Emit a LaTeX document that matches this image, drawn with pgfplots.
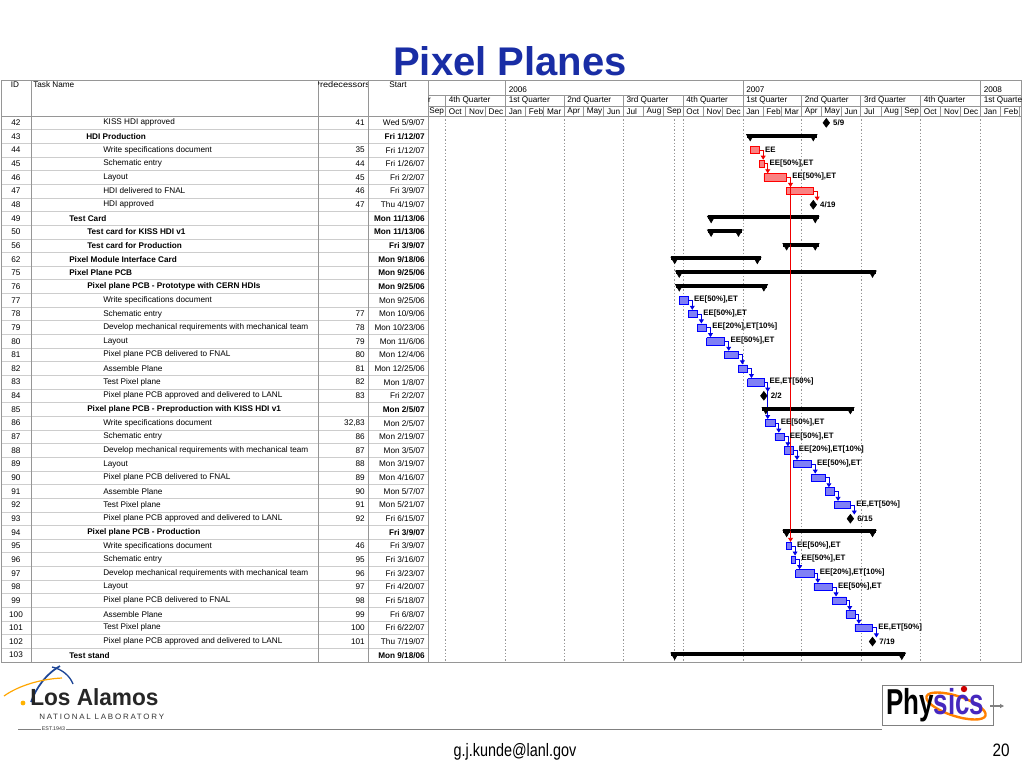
\documentclass[border=0pt]{standalone}
\usepackage{fontspec}
\setmainfont{Liberation Sans}
\newfontfamily\lanlspaced[LetterSpace=22]{Liberation Sans}
\usepackage{pgfplots}
\pgfplotsset{compat=1.18}
\usetikzlibrary{arrows.meta}

\definecolor{titleblue}{RGB}{25,45,165}
\definecolor{gridgray}{RGB}{150,150,150}
\definecolor{linegray}{RGB}{150,150,150}
\definecolor{rowgray}{RGB}{205,205,205}
\definecolor{taskblue}{RGB}{128,128,245}
\definecolor{taskred}{RGB}{250,130,130}
\definecolor{linkblue}{RGB}{0,0,230}
\definecolor{linkred}{RGB}{240,0,0}
\definecolor{physblue}{RGB}{70,40,190}
\definecolor{lanlblue}{RGB}{30,70,150}

\newcommand\tabfont{\fontsize{6.15}{7}\selectfont}
\newcommand\barfont{\fontsize{5.9}{7}\selectfont\bfseries}

\pgfplotsset{
  bluebar/.style={draw=blue, fill=taskblue, line width=0.5pt},
  redbar/.style={draw=red, fill=taskred, line width=0.5pt},
  gridline/.style={gridgray, line width=0.4pt, dash pattern=on 1pt off 1.5pt},
}

% table row: row, id, indent x, name, predecessors, start, font
\newcommand\trow[7]{%
  \pgfmathsetmacro\yy{122.8+13.65*#1}%
  \node at (16,\yy) {\tabfont #2};
  \node[anchor=west] at (#3,\yy) {\tabfont#7\relax #4};
  \node[anchor=east] at (365,\yy) {\tabfont #5};
  \node[anchor=east] at (425,\yy) {\tabfont#7\relax #6};}

% task bar: style, row, start day, end day
\newcommand\tbar[4]{%
  \pgfmathsetmacro\ya{#2-0.27}\pgfmathsetmacro\yb{#2+0.27}%
  \edef\doit{\noexpand\addplot[#1] coordinates {(#3,\ya) (#4,\ya) (#4,\yb) (#3,\yb) (#3,\ya)};}\doit}

% summary bar: row, start day, end day
\newcommand\tsum[3]{%
  \pgfmathsetmacro\ya{#1-0.07}%
  \edef\doit{\noexpand\addplot[black, line width=3pt, shorten <=-2.5pt, shorten >=-2.5pt] coordinates {(#2,\ya) (#3,\ya)};
    \noexpand\addplot[only marks, mark=triangle*, mark size=3.3pt, mark options={rotate=180, black}] coordinates {(#2,#1) (#3,#1)};}\doit}

% link: colour, row, end day, next row
\newcommand\tlink[4]{%
  \pgfmathsetmacro\lx{#3+6}\pgfmathsetmacro\ly{#4-0.3}%
  \edef\doit{\noexpand\addplot[#1, line width=0.6pt, -{Triangle[length=3pt,width=3.6pt]}] coordinates {(#3,#2) (\lx,#2) (\lx,\ly)};}\doit}

\begin{document}
\begin{tikzpicture}[x=0.75pt, y=-0.75pt, every node/.style={inner sep=0pt}]
\fill[white] (0,0) rectangle (1024,768);

% title
\node[font=\fontsize{30}{36}\selectfont\bfseries, text=titleblue] at (510,61) {Pixel Planes};

% table grid
\foreach \k in {1,...,39} {
  \pgfmathsetmacro\yy{116+13.65*\k}
  \draw[rowgray, line width=0.5pt] (1,\yy) -- (428,\yy);
}
\draw[linegray, line width=0.6pt] (1,80) rectangle (1021,662);
\draw[linegray, line width=0.6pt] (1,116) -- (1021,116);
\draw[linegray, line width=0.6pt] (428,95) -- (1021,95);
\draw[linegray, line width=0.6pt] (428,106) -- (1021,106);
\foreach \xx in {31,318,368,428} \draw[linegray, line width=0.6pt] (\xx,80) -- (\xx,662);

% table header
\node at (15,85) {\tabfont ID};
\node[anchor=west] at (33,85) {\tabfont Task Name};
\begin{scope}
  \clip (318.5,80) rectangle (367.5,116);
  \node[xscale=1.12] at (342,85) {\tabfont Predecessors};
\end{scope}
\node at (398,85) {\tabfont Start};

% gantt header
\begin{scope}
  \clip (428,80) rectangle (1021,116);
  \foreach \d/\m in {-122/Sep,-92/Oct,-61/Nov,-31/Dec,0/Jan,31/Feb,59/Mar,90/Apr,120/May,151/Jun,181/Jul,212/Aug,243/Sep,273/Oct,304/Nov,334/Dec,365/Jan,396/Feb,424/Mar,455/Apr,485/May,516/Jun,546/Jul,577/Aug,608/Sep,638/Oct,669/Nov,699/Dec,730/Jan,761/Feb,790/Mar} {
    \pgfmathsetmacro\xx{505.5+0.6507*\d}
    \draw[linegray, line width=0.6pt] (\xx,106) -- (\xx,116);
    \node[anchor=west] at (\xx+3,111.4) {\tabfont \m};
  }
  \foreach \d/\q in {-184/3rd Quarter,-92/4th Quarter,0/1st Quarter,90/2nd Quarter,181/3rd Quarter,273/4th Quarter,365/1st Quarter,455/2nd Quarter,546/3rd Quarter,638/4th Quarter,730/1st Quarter} {
    \pgfmathsetmacro\xx{505.5+0.6507*\d}
    \draw[linegray, line width=0.6pt] (\xx,95) -- (\xx,106);
    \node[anchor=west] at (\xx+3,100.8) {\tabfont \q};
  }
  \foreach \d/\y in {-365/2005,0/2006,365/2007,730/2008} {
    \pgfmathsetmacro\xx{505.5+0.6507*\d}
    \draw[linegray, line width=0.6pt] (\xx,80) -- (\xx,95);
    \node[anchor=west] at (\xx+3,90) {\tabfont \y};
  }
\end{scope}

% table rows
\trow{0}{42}{103}{KISS HDI approved}{41}{Wed 5/9/07}{}
\trow{1}{43}{86}{HDI Production}{}{Fri 1/12/07}{\bfseries}
\trow{2}{44}{103}{Write specifications document}{35}{Fri 1/12/07}{}
\trow{3}{45}{103}{Schematic entry}{44}{Fri 1/26/07}{}
\trow{4}{46}{103}{Layout}{45}{Fri 2/2/07}{}
\trow{5}{47}{103}{HDI delivered to FNAL}{46}{Fri 3/9/07}{}
\trow{6}{48}{103}{HDI approved}{47}{Thu 4/19/07}{}
\trow{7}{49}{69}{Test Card}{}{Mon 11/13/06}{\bfseries}
\trow{8}{50}{87}{Test card for KISS HDI v1}{}{Mon 11/13/06}{\bfseries}
\trow{9}{56}{87}{Test card for Production}{}{Fri 3/9/07}{\bfseries}
\trow{10}{62}{69}{Pixel Module Interface Card}{}{Mon 9/18/06}{\bfseries}
\trow{11}{75}{69}{Pixel Plane PCB}{}{Mon 9/25/06}{\bfseries}
\trow{12}{76}{87}{Pixel plane PCB - Prototype with CERN HDIs}{}{Mon 9/25/06}{\bfseries}
\trow{13}{77}{103}{Write specifications document}{}{Mon 9/25/06}{}
\trow{14}{78}{103}{Schematic entry}{77}{Mon 10/9/06}{}
\trow{15}{79}{103}{Develop mechanical requirements with mechanical team}{78}{Mon 10/23/06}{}
\trow{16}{80}{103}{Layout}{79}{Mon 11/6/06}{}
\trow{17}{81}{103}{Pixel plane PCB delivered to FNAL}{80}{Mon 12/4/06}{}
\trow{18}{82}{103}{Assemble Plane}{81}{Mon 12/25/06}{}
\trow{19}{83}{103}{Test Pixel plane}{82}{Mon 1/8/07}{}
\trow{20}{84}{103}{Pixel plane PCB approved and delivered to LANL}{83}{Fri 2/2/07}{}
\trow{21}{85}{87}{Pixel plane PCB - Preproduction with KISS HDI v1}{}{Mon 2/5/07}{\bfseries}
\trow{22}{86}{103}{Write specifications document}{32,83}{Mon 2/5/07}{}
\trow{23}{87}{103}{Schematic entry}{86}{Mon 2/19/07}{}
\trow{24}{88}{103}{Develop mechanical requirements with mechanical team}{87}{Mon 3/5/07}{}
\trow{25}{89}{103}{Layout}{88}{Mon 3/19/07}{}
\trow{26}{90}{103}{Pixel plane PCB delivered to FNAL}{89}{Mon 4/16/07}{}
\trow{27}{91}{103}{Assemble Plane}{90}{Mon 5/7/07}{}
\trow{28}{92}{103}{Test Pixel plane}{91}{Mon 5/21/07}{}
\trow{29}{93}{103}{Pixel plane PCB approved and delivered to LANL}{92}{Fri 6/15/07}{}
\trow{30}{94}{87}{Pixel plane PCB - Production}{}{Fri 3/9/07}{\bfseries}
\trow{31}{95}{103}{Write specifications document}{46}{Fri 3/9/07}{}
\trow{32}{96}{103}{Schematic entry}{95}{Fri 3/16/07}{}
\trow{33}{97}{103}{Develop mechanical requirements with mechanical team}{96}{Fri 3/23/07}{}
\trow{34}{98}{103}{Layout}{97}{Fri 4/20/07}{}
\trow{35}{99}{103}{Pixel plane PCB delivered to FNAL}{98}{Fri 5/18/07}{}
\trow{36}{100}{103}{Assemble Plane}{99}{Fri 6/8/07}{}
\trow{37}{101}{103}{Test Pixel plane}{100}{Fri 6/22/07}{}
\trow{38}{102}{103}{Pixel plane PCB approved and delivered to LANL}{101}{Thu 7/19/07}{}
\trow{39}{103}{69}{Test stand}{}{Mon 9/18/06}{\bfseries}

% gantt body: x = days since 1 Jan 2006, y = row
\coordinate (gnw) at (428,116);
\begin{axis}[at={(gnw)}, anchor=north west, scale only axis,
  width=444.75pt, height=409.5pt,
  xmin=-119.1, xmax=792.2, ymin=-0.5, ymax=39.5, y dir=reverse,
  axis line style={draw=none}, tick style={draw=none},
  xtick=\empty, ytick=\empty,
  clip=true]
% quarter gridlines and project start
\pgfplotsinvokeforeach{-92,0,90,181,273,365,455,546,638,730,260}{
  \addplot[gridline] coordinates {(#1,-0.5) (#1,39.5)};
}

% summary tasks
\tsum{1}{376}{473}
\tsum{7}{316}{476}
\tsum{8}{316}{358}
\tsum{9}{432}{476}
\tsum{10}{260}{387}
\tsum{11}{267}{564}
\tsum{12}{267}{397}
\tsum{21}{400}{530}
\tsum{30}{432}{564}
\tsum{39}{260}{609}

% HDI production tasks
\tbar{redbar}{2}{376}{390}
\tbar{redbar}{3}{390}{397}
\tbar{redbar}{4}{397}{432}
\tbar{redbar}{5}{432}{473}
% prototype
\tbar{bluebar}{13}{267}{281}
\tbar{bluebar}{14}{281}{295}
\tbar{bluebar}{15}{295}{309}
\tbar{bluebar}{16}{309}{337}
\tbar{bluebar}{17}{337}{358}
\tbar{bluebar}{18}{358}{372}
\tbar{bluebar}{19}{372}{397}
% preproduction
\tbar{bluebar}{22}{400}{414}
\tbar{bluebar}{23}{414}{428}
\tbar{bluebar}{24}{428}{442}
\tbar{bluebar}{25}{442}{470}
\tbar{bluebar}{26}{470}{491}
\tbar{bluebar}{27}{491}{505}
\tbar{bluebar}{28}{505}{530}
% production
\tbar{bluebar}{31}{432}{439}
\tbar{bluebar}{32}{439}{446}
\tbar{bluebar}{33}{446}{474}
\tbar{bluebar}{34}{474}{502}
\tbar{bluebar}{35}{502}{523}
\tbar{bluebar}{36}{523}{537}
\tbar{bluebar}{37}{537}{564}

% links
\tlink{linkred}{2}{390}{3}
\tlink{linkred}{3}{397}{4}
\tlink{linkred}{4}{432}{5}
\tlink{linkred}{5}{473}{6}
\tlink{linkred}{4}{432}{31}
\tlink{linkblue}{13}{281}{14}
\tlink{linkblue}{14}{295}{15}
\tlink{linkblue}{15}{309}{16}
\tlink{linkblue}{16}{337}{17}
\tlink{linkblue}{17}{358}{18}
\tlink{linkblue}{18}{372}{19}
\tlink{linkblue}{19}{397}{22}
\tlink{linkblue}{19}{397}{20}
\tlink{linkblue}{22}{414}{23}
\tlink{linkblue}{23}{428}{24}
\tlink{linkblue}{24}{442}{25}
\tlink{linkblue}{25}{470}{26}
\tlink{linkblue}{26}{491}{27}
\tlink{linkblue}{27}{505}{28}
\tlink{linkblue}{28}{530}{29}
\tlink{linkblue}{31}{439}{32}
\tlink{linkblue}{32}{446}{33}
\tlink{linkblue}{33}{474}{34}
\tlink{linkblue}{34}{502}{35}
\tlink{linkblue}{35}{523}{36}
\tlink{linkblue}{36}{537}{37}
\tlink{linkblue}{37}{564}{38}

% milestones
\addplot[only marks, mark=diamond*, mark size=3.3pt, black,
  nodes near coords, point meta=explicit symbolic,
  every node near coord/.append style={anchor=west, xshift=5pt, font=\barfont, text=black}]
  table[meta=lab, row sep=\\] {
  x y lab\\
  493 0 5/9\\
  473 6 4/19\\
  397 20 2/2\\
  530 29 6/15\\
  564 38 7/19\\
};

% bar labels
\addplot[draw=none, mark=none,
  nodes near coords, point meta=explicit symbolic,
  every node near coord/.append style={anchor=west, xshift=4.2pt, yshift=0.6pt, font=\barfont, text=black}]
  table[meta=lab, row sep=\\] {
  x y lab\\
  390 2 EE\\
  397 3 EE[50\%],ET\\
  432 4 EE[50\%],ET\\
  281 13 EE[50\%],ET\\
  295 14 EE[50\%],ET\\
  309 15 EE[20\%],ET[10\%]\\
  337 16 EE[50\%],ET\\
  397 19 EE,ET[50\%]\\
  414 22 EE[50\%],ET\\
  428 23 EE[50\%],ET\\
  442 24 EE[20\%],ET[10\%]\\
  470 25 EE[50\%],ET\\
  530 28 EE,ET[50\%]\\
  439 31 EE[50\%],ET\\
  446 32 EE[50\%],ET\\
  474 33 EE[20\%],ET[10\%]\\
  502 34 EE[50\%],ET\\
  564 37 EE,ET[50\%]\\
};
\end{axis}

% footer: Los Alamos logo
\draw[lanlblue, line width=1.3pt] (31,702) .. controls (36,688) and (46,674) .. (60,666);
\draw[lanlblue, line width=1.0pt] (52,667) .. controls (62,669) and (70,676) .. (73,684);
\draw[orange!70!yellow, line width=0.9pt] (4,696) .. controls (18,686) and (40,679) .. (62,678);
\fill[orange!60!yellow] (23,703) circle (2.4);
\node[anchor=west, font=\fontsize{17.5}{20}\selectfont\bfseries, text=black!85, xscale=0.97] at (30,697) {Los Alamos};
\node[anchor=west, font=\lanlspaced\fontsize{5.8}{7}\selectfont, text=black!80, xscale=1.03] at (39,717) {NATIONAL LABORATORY};
\draw[gray, line width=0.7pt] (18,729) -- (41,729);
\node[font=\fontsize{4}{5}\selectfont, text=black!80] at (53.5,729) {EST.1943};
\draw[gray, line width=0.7pt] (66,729) -- (882,729);

% footer: Physics logo
\draw[gray, line width=0.5pt] (882,685) rectangle (993,725);
\draw[orange, line width=1.8pt, rotate around={-18:(956,706)}] (956,706) ellipse (31 and 10);
\node[anchor=west, font=\fontsize{27}{30}\selectfont\bfseries, xscale=0.72] at (886,705) {Phy\textcolor{physblue}{sics}};
\fill[red!80!black] (964,689) circle (3.2);
\draw[gray, line width=0.8pt, -{Triangle[length=3pt,width=3pt]}] (990,706) -- (1004,706);

% footer text
\node[anchor=base, font=\fontsize{13.5}{16}\selectfont, xscale=0.8] at (515,756) {g.j.kunde@lanl.gov};
\node[anchor=base, font=\fontsize{13.5}{16}\selectfont, xscale=0.85] at (1001,756) {20};
\end{tikzpicture}
\end{document}
